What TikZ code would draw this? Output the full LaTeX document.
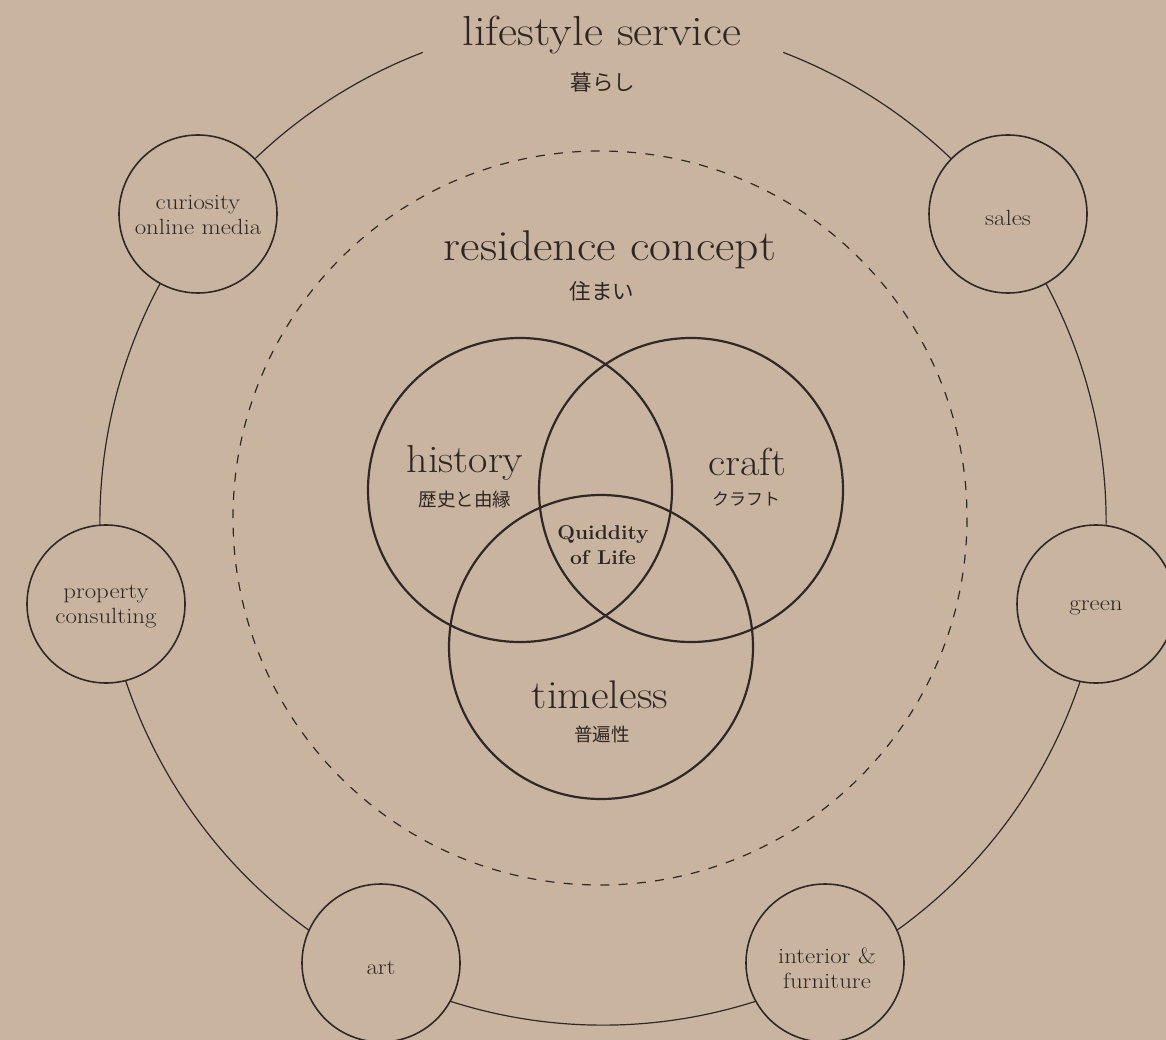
\documentclass[tikz,border=0pt]{standalone}
\usepackage{fontspec}
\newfontfamily\jpfont{Noto Sans CJK JP}
\definecolor{bgc}{HTML}{C9B59F}
\definecolor{linec}{HTML}{2F2826}
\definecolor{textc}{HTML}{2E2624}
\tikzset{
  smallc/.style={circle, draw=linec, line width=1.6pt, fill=bgc, minimum size=158pt, inner sep=0pt},
  smalltxt/.style={text=textc, inner sep=0pt, align=center, xscale=1.13, transform shape, font=\fontsize{22}{25}\selectfont},
  vennc/.style={circle, draw=linec, line width=2.2pt, minimum size=304pt, inner sep=0pt},
  bigtxt/.style={text=textc, inner sep=0pt, xscale=1.11, transform shape, font=\fontsize{42}{46}\selectfont},
  midtxt/.style={text=textc, inner sep=0pt, xscale=1.08, transform shape, font=\fontsize{39}{42}\selectfont},
  jptxt/.style={text=textc, inner sep=0pt, font=\jpfont\fontsize{21.5}{23}\selectfont},
  jpsmall/.style={text=textc, inner sep=0pt, font=\jpfont\fontsize{17}{19}\selectfont},
}
\begin{document}
\begin{tikzpicture}[x=1pt,y=-1pt]
\useasboundingbox (0,0) rectangle (1166,1040);
\fill[bgc] (0,0) rectangle (1166,1040);
% outer circle with gap at top
\coordinate (oc) at (603,522);
\draw[linec, line width=1.2pt] (oc) ++(-69:503) arc[start angle=-69, end angle=249, radius=503];
% dashed circle
\coordinate (dc) at (600,518);
\draw[linec, line width=1.2pt, dash pattern=on 9pt off 9.3pt] (dc) circle[radius=367];
% venn
\node[vennc] (vh) at (520,490) {};
\node[vennc] (vc) at (691,490) {};
\node[vennc] (vt) at (601,647) {};
% titles
\node[bigtxt] (ls) at (602,35) {lifestyle service};
\node[jptxt] (lsj) at (603,82) {暮らし};
\node[bigtxt, font=\fontsize{43}{47}\selectfont] (rc) at (610,250) {residence concept};
\node[jptxt] (rcj) at (602,291) {住まい};
\node[midtxt] (hi) at (465,463) {history};
\node[jpsmall, font=\jpfont\fontsize{18.5}{20}\selectfont] (hij) at (465,499) {歴史と由縁};
\node[midtxt] (cr) at (747,462) {craft};
\node[jpsmall] (crj) at (746,499) {クラフト};
\node[midtxt, font=\fontsize{40}{42}\selectfont] (ti) at (600,695) {timeless};
\node[jptxt, font=\jpfont\fontsize{18.5}{20}\selectfont] (tij) at (602,734) {普遍性};
\node[text=textc, inner sep=0pt, align=center, xscale=1.05, transform shape, font=\bfseries\fontsize{20}{25}\selectfont] (ql) at (603,545) {Quiddity\\of Life};
% small circles
\node[smallc] (cu) at (198,214) {};
\node[smalltxt] (cut) at (198,215) {curiosity\\online media};
\node[smallc] (sa) at (1008,214) {};
\node[smalltxt] (sat) at (1008,218) {sales};
\node[smallc] (pc) at (106,604) {};
\node[smalltxt] (pct) at (106,606) {property\\consulting};
\node[smallc] (gr) at (1096,604) {};
\node[smalltxt] (grt) at (1096,608) {green};
\node[smallc] (ar) at (381,963) {};
\node[smalltxt] (art) at (381,968) {art};
\node[smallc] (inf) at (825,963) {};
\node[smalltxt] (inft) at (827,968) {interior \&\\furniture};
\end{tikzpicture}
\end{document}
